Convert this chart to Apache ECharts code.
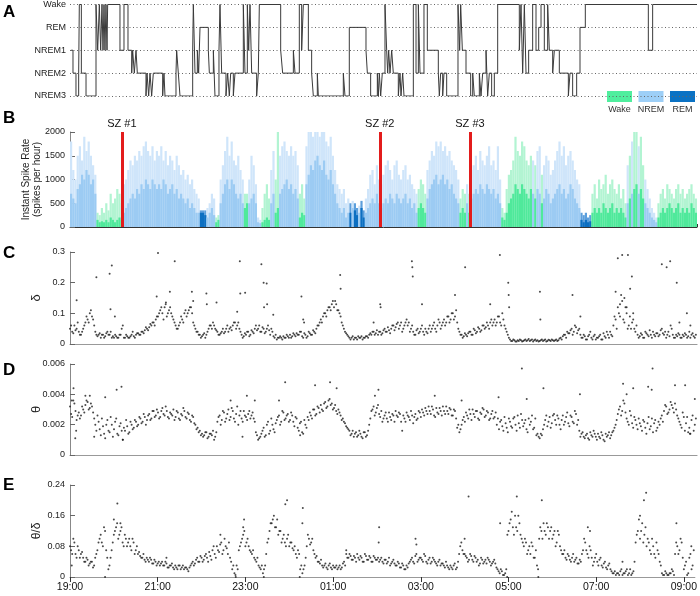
<!DOCTYPE html>
<html><head><meta charset="utf-8">
<script src="https://cdn.jsdelivr.net/npm/echarts@6/dist/echarts.min.js"></script>
<style>html,body{margin:0;padding:0;background:#fff}#c{width:700px;height:596px}</style>
</head><body><div id="c"></div>
<script>
const FONT = '"Liberation Sans", Arial, Helvetica, sans-serif';
const timeTickLabels = ['19:00','21:00','23:00','01:00','03:00','05:00','07:00','09:00'];
const stageLabels = ['NREM3','NREM2','NREM1','REM','Wake'];
const stageLevel = {N3:0, N2:1, N1:2, R:3, W:4};
const hoursShown = 14.25;
const binHours = 0.05;

// Hypnogram: stage change times (hours after 19:00) and stage entered
const hypnoTimes = [0.02,0.068,0.136,0.197,0.212,0.258,0.364,0.591,0.629,0.667,0.697,0.727,0.75,0.773,0.795,0.818,0.841,0.856,1.136,1.227,1.318,1.402,1.424,1.462,1.5,1.53,1.727,1.75,1.788,1.818,1.856,1.894,2.106,2.136,2.159,2.409,2.424,2.462,2.5,2.788,2.803,2.841,2.894,2.924,2.955,3.144,3.167,3.258,3.295,3.386,3.409,3.447,3.545,3.583,3.621,3.652,3.712,3.75,3.939,3.977,4.03,4.061,4.091,4.129,4.242,4.28,4.303,4.788,4.833,5.076,5.114,5.212,5.265,5.303,5.417,5.492,5.53,5.621,5.644,6.212,6.25,6.348,6.727,6.758,6.833,6.985,7.008,7.03,7.061,7.098,7.159,7.197,7.22,7.242,7.273,7.311,7.348,7.462,7.5,7.523,7.561,7.591,7.803,7.864,7.917,7.955,8.045,8.121,8.371,8.394,8.424,8.47,8.5,8.561,8.818,8.856,8.879,8.917,9.0,9.106,9.152,9.189,9.303,9.341,9.379,9.455,9.492,9.53,9.583,9.644,9.72,10.212,10.25,10.288,10.326,10.364,10.424,10.515,10.591,10.652,10.705,10.78,10.856,10.894,10.97,11.008,11.121,11.326,11.364,11.424,11.515,11.591,11.712,13.144,13.242];
const hypnoStages = ['N1','N2','N3','N2','W','N2','N3','W','N1','W','N1','W','N1','W','N1','W','N1','W','N1','W','N1','N2','N1','N2','N1','N2','N3','N2','N3','N2','N3','N2','N3','N2','N3','N2','N1','N2','N3','N1','W','N2','N1','N2','R','N1','N2','N1','N3','N1','W','N2','N3','N2','N3','N2','N3','N2','W','N2','W','N1','W','N2','N3','N2','W','N1','N2','N1','N2','W','N1','W','N1','N2','N3','N2','N3','N2','N3','R','N1','N2','N3','N2','N3','N2','N3','N2','W','N1','N2','N1','N2','N1','N2','N3','N2','N3','N2','N3','W','N2','W','N2','W','N1','N2','N3','N2','N3','N2','N3','W','N1','W','N1','N2','N3','N2','N3','N2','N3','N2','N1','N3','N2','N3','N2','W','N1','W','N2','W','N2','N1','W','N1','R','W','N1','W','N1','N2','N1','N2','N3','N2','N3','N2','R','W','N1','W'];

// Spike rate, 3-minute bins from 19:00
const seizureTimes = [1.175, 7.045, 9.09];
const seizureLabels = ['SZ #1','SZ #2','SZ #3'];
const spikeStage = [
 'NNNNNNNNNNNNWWWWWWWW','WWWWNNNNNNNNNNNNNNNN','NNNNNNNNNNNNNNNNNNNR','RRNNNNWWNNNNNNNNNNNW',
 'WNNNNNNWWWWNNWWNNNNN','NNNNWWWNNNNNNNNNNNNN','NNNNNNNRNRRNRRNNNNNN','NNNNNNNNNNNNNNNNNNWW',
 'WWNNNNNNNNNNNNNNNWWW','NWNNNNNNNNNNNNNNWWWW','WWWWWWWWWWNWNNWNNNNN','NNNNNNNNNNNNRRRRRWWW',
 'WWWWWWWWWWWWWNWNWWNW','WNNNNNNWWWWWWWWWWWWW','WWWWW'].join('');
const spikeCore = [
 700,600,500,800,900,1100,1000,1200,1100,900,1000,700,150,100,120,100,150,100,200,150,
 100,150,200,150,300,400,500,600,700,600,800,700,900,800,1000,900,800,1000,900,800,
 900,800,1000,900,700,800,900,700,800,600,700,600,500,600,400,500,400,300,300,300,
 300,250,200,300,400,250,100,150,500,700,900,1000,800,1000,900,700,600,700,500,400,
 500,500,600,700,500,100,80,100,150,200,150,500,700,300,400,700,800,900,1000,800,
 900,700,800,600,200,300,250,900,1100,1300,1200,1400,1500,1300,1200,1400,1100,1000,1200,900,
 700,500,400,300,400,200,300,300,400,350,250,300,400,200,300,400,500,600,500,700,
 500,400,500,600,500,700,600,500,700,600,500,600,700,500,600,400,500,300,400,500,
 400,300,600,800,900,1000,1100,900,1000,1100,900,1000,800,900,700,600,500,300,400,300,
 500,300,600,700,800,700,900,800,700,900,800,700,800,600,700,500,200,150,300,500,
 600,700,900,800,700,900,800,700,600,800,700,600,800,700,500,600,800,700,500,600,
 700,800,900,700,800,600,700,900,800,600,500,400,150,100,150,100,120,300,400,300,
 400,300,500,400,300,400,500,300,400,300,400,300,200,500,600,700,800,900,700,800,
 600,500,400,300,200,150,100,200,300,400,300,400,500,400,300,400,500,300,400,300,
 400,300,500,400,300];
const spikePeak = [
 1800,1200,1000,1500,1700,1400,1900,1600,1800,1500,1300,1100,300,250,400,300,500,350,700,500,
 600,800,700,500,900,1000,1200,1400,1300,1500,1400,1600,1500,1700,1800,1600,1500,1700,1400,1600,
 1500,1700,1400,1600,1300,1500,1400,1200,1500,1300,1100,1200,1000,1100,900,1000,800,700,600,350,
 350,350,400,500,700,600,200,250,1000,1300,1600,1900,1500,1800,1400,1300,1500,1200,1000,700,
 700,1000,1500,1300,900,200,150,400,700,900,600,1200,1600,1000,2000,1500,1700,1800,1600,1500,
 1700,1500,1600,1300,700,900,600,1700,2000,2000,1900,2000,2000,1900,2000,2000,1800,1700,1900,1500,
 1200,900,800,700,800,500,600,500,550,500,400,450,550,350,600,800,1100,1200,900,1300,
 1000,900,1100,1300,1400,1200,1000,1300,1400,1100,1000,1200,1300,1000,1100,900,800,700,800,1000,
 900,700,1200,1400,1600,1500,1800,1700,1800,1600,1700,1500,1600,1400,1300,1200,1000,600,800,700,
 900,700,1200,1300,1500,1200,1600,1400,1300,1500,1700,1300,1400,1200,1700,1000,400,300,800,1100,
 1200,1400,1900,1600,1500,1800,1700,1400,1300,1500,1400,1300,1600,1700,1100,1300,1500,1400,1100,1200,
 1400,1600,1800,1500,1700,1300,1500,1600,1400,1200,1000,900,300,250,300,200,250,700,900,600,
 1000,800,900,1100,700,900,1000,800,700,900,600,800,500,1300,1500,1800,2000,2000,1700,1900,
 1300,1000,800,600,400,300,200,500,700,800,600,900,800,700,600,800,900,700,800,600,
 700,800,900,700,600];

// delta power: two readings per 3-minute bin (at :00 and :1.5 of the bin), plus outlying points [hours, value]
const delta = [
 0.05,0.04,0.06,0.05,0.04,0.03,0.05,0.07,0.08,0.10,0.09,0.06,0.03,0.03,0.02,0.03,0.025,0.04,0.03,0.02,
 0.02,0.025,0.02,0.03,0.06,0.02,0.025,0.02,0.03,0.025,0.03,0.035,0.03,0.04,0.045,0.05,0.055,0.06,0.07,0.08,
 0.09,0.11,0.10,0.12,0.09,0.11,0.10,0.08,0.06,0.05,0.07,0.08,0.10,0.09,0.11,0.12,0.07,0.05,0.04,0.03,
 0.025,0.035,0.03,0.05,0.06,0.07,0.05,0.04,0.03,0.04,0.035,0.05,0.04,0.055,0.06,0.07,0.06,0.05,0.03,0.025,
 0.03,0.04,0.03,0.04,0.05,0.045,0.06,0.04,0.05,0.04,0.06,0.03,0.04,0.02,0.015,0.02,0.02,0.025,0.02,0.025,
 0.03,0.025,0.03,0.035,0.03,0.04,0.02,0.03,0.025,0.035,0.03,0.04,0.05,0.06,0.08,0.09,0.10,0.11,0.12,0.13,
 0.12,0.13,0.11,0.09,0.06,0.04,0.03,0.02,0.02,0.015,0.02,0.025,0.02,0.015,0.02,0.025,0.03,0.03,0.04,0.035,
 0.03,0.04,0.035,0.05,0.04,0.045,0.05,0.06,0.055,0.07,0.06,0.04,0.06,0.08,0.07,0.05,0.04,0.03,0.05,0.04,
 0.06,0.03,0.04,0.05,0.04,0.06,0.05,0.06,0.07,0.06,0.08,0.07,0.09,0.08,0.10,0.09,0.07,0.04,0.03,0.025,
 0.03,0.035,0.04,0.03,0.045,0.04,0.05,0.045,0.06,0.055,0.06,0.07,0.06,0.08,0.07,0.09,0.06,0.08,0.05,0.03,
 0.015,0.01,0.012,0.008,0.01,0.012,0.01,0.015,0.012,0.01,0.015,0.012,0.01,0.008,0.012,0.01,0.015,0.01,0.012,0.015,
 0.01,0.015,0.012,0.02,0.025,0.03,0.04,0.035,0.05,0.04,0.055,0.045,0.03,0.02,0.025,0.015,0.03,0.02,0.025,0.015,
 0.02,0.03,0.015,0.025,0.04,0.02,0.03,0.06,0.08,0.12,0.09,0.14,0.07,0.10,0.06,0.05,0.08,0.04,0.03,0.025,
 0.03,0.02,0.035,0.025,0.03,0.04,0.025,0.035,0.03,0.05,0.03,0.02,0.04,0.06,0.03,0.02,0.025,0.03,0.02,0.025,
 0.03,0.025,0.02,0.035,0.02];
const deltaB = [
 0.06,0.035,0.045,0.07,0.03,0.04,0.06,0.09,0.07,0.11,0.08,0.04,0.025,0.035,0.03,0.02,0.035,0.03,0.04,0.025,
 0.03,0.02,0.03,0.05,0.02,0.03,0.02,0.025,0.04,0.02,0.035,0.03,0.04,0.035,0.055,0.045,0.065,0.07,0.06,0.09,
 0.10,0.12,0.08,0.13,0.10,0.12,0.09,0.07,0.05,0.06,0.09,0.07,0.11,0.10,0.12,0.10,0.06,0.04,0.03,0.02,
 0.03,0.02,0.04,0.06,0.05,0.06,0.045,0.03,0.035,0.05,0.04,0.06,0.05,0.045,0.07,0.05,0.07,0.04,0.02,0.035,
 0.04,0.025,0.045,0.035,0.06,0.05,0.04,0.055,0.035,0.05,0.045,0.05,0.025,0.03,0.02,0.025,0.015,0.02,0.03,0.02,
 0.02,0.035,0.025,0.03,0.04,0.025,0.035,0.02,0.04,0.03,0.045,0.035,0.06,0.07,0.07,0.10,0.09,0.12,0.11,0.14,
 0.14,0.11,0.10,0.07,0.05,0.035,0.025,0.015,0.025,0.02,0.015,0.02,0.025,0.02,0.025,0.02,0.035,0.04,0.03,0.045,
 0.04,0.03,0.045,0.04,0.055,0.035,0.06,0.045,0.065,0.05,0.07,0.05,0.07,0.06,0.04,0.06,0.03,0.045,0.035,0.05,
 0.04,0.05,0.035,0.06,0.05,0.07,0.04,0.08,0.05,0.07,0.06,0.09,0.07,0.10,0.08,0.11,0.05,0.03,0.02,0.035,
 0.025,0.04,0.03,0.05,0.035,0.055,0.04,0.06,0.05,0.07,0.05,0.08,0.07,0.06,0.09,0.07,0.10,0.06,0.04,0.02,
 0.01,0.015,0.008,0.012,0.015,0.008,0.012,0.01,0.016,0.012,0.008,0.015,0.012,0.01,0.015,0.012,0.008,0.014,0.01,0.012,
 0.012,0.01,0.018,0.015,0.03,0.02,0.035,0.045,0.03,0.06,0.035,0.05,0.02,0.03,0.015,0.025,0.04,0.015,0.03,0.02,
 0.025,0.015,0.035,0.02,0.03,0.04,0.025,0.09,0.05,0.10,0.16,0.08,0.12,0.05,0.09,0.07,0.05,0.06,0.02,0.035,
 0.02,0.04,0.03,0.045,0.02,0.03,0.035,0.025,0.045,0.035,0.04,0.03,0.025,0.05,0.02,0.03,0.035,0.02,0.03,0.035,
 0.02,0.04,0.03,0.025,0.03];
const deltaOutliers = [[0.15,0.143],[0.6,0.218],[0.9,0.229],[0.95,0.256],[0.92,0.113],[1.02,0.09],[1.97,0.155],[2.0,0.297],[2.27,0.17],[2.38,0.27],[2.18,0.135],[2.77,0.17],[2.8,0.14],[3.1,0.165],[3.11,0.13],[3.33,0.135],[3.8,0.105],[3.86,0.27],[3.87,0.165],[3.98,0.167],[4.35,0.26],[4.4,0.2],[4.41,0.12],[4.47,0.197],[4.48,0.13],[4.62,0.095],[5.26,0.155],[5.3,0.08],[5.32,0.07],[6.14,0.225],[6.15,0.18],[6.9,0.07],[7.05,0.13],[7.06,0.12],[7.77,0.27],[7.78,0.25],[7.79,0.22],[8.0,0.13],[8.75,0.16],[8.98,0.25],[9.55,0.13],[9.77,0.29],[9.96,0.2],[9.97,0.16],[9.98,0.12],[10.68,0.17],[10.69,0.08],[11.42,0.16],[11.6,0.09],[12.45,0.28],[12.55,0.29],[12.68,0.29],[12.4,0.17],[12.6,0.15],[12.73,0.18],[12.77,0.22],[12.5,0.13],[12.65,0.12],[12.8,0.1],[13.45,0.26],[13.56,0.25],[13.64,0.27],[13.79,0.2],[13.85,0.07],[14.02,0.1],[14.1,0.06]];

// theta power in units of 0.001, two readings per 3-minute bin, plus outliers [hours, value*1000]
const thetaMilli = [
 3.2,2.5,3.4,2.3,2.8,2.6,3.0,3.3,3.5,3.1,3.2,2.4,1.6,2.2,1.3,1.9,1.1,2.3,1.5,2.0,
 1.7,2.4,1.3,2.1,1.0,1.6,1.9,1.5,2.0,1.8,2.2,2.0,2.4,2.2,2.5,2.3,2.7,2.4,2.9,2.6,
 2.8,2.5,3.1,2.6,2.9,2.4,2.7,3.0,2.5,2.8,2.3,2.6,2.9,2.4,2.7,2.2,2.5,2.0,1.8,1.6,
 1.4,1.3,1.5,1.2,1.4,1.6,1.2,2.2,2.6,2.3,2.8,2.4,3.0,2.5,2.9,2.2,3.2,2.6,2.4,2.9,
 2.5,2.7,2.4,2.8,2.2,1.3,1.1,1.4,1.8,1.3,2.2,1.6,2.0,1.5,2.3,2.6,2.2,2.8,2.4,2.7,
 2.3,2.6,1.9,2.4,1.6,2.2,1.4,2.0,2.5,2.8,2.4,3.0,2.7,3.1,3.3,2.9,3.5,3.2,3.7,3.4,
 3.1,2.9,3.0,2.6,2.4,2.1,1.8,1.6,1.4,1.2,1.5,1.3,1.4,1.1,1.5,1.3,2.0,2.9,3.2,2.8,
 3.3,2.5,2.2,2.6,2.4,2.8,2.3,2.6,2.9,2.5,2.7,1.6,2.4,2.8,2.5,2.9,2.1,2.7,2.4,2.8,
 3.0,2.6,2.9,3.2,2.7,3.0,2.5,2.8,3.1,2.6,2.9,3.2,2.7,3.0,2.6,2.9,1.8,1.5,2.0,2.5,
 2.8,2.4,2.7,3.0,2.5,2.9,2.3,2.7,3.0,2.6,2.8,2.4,2.9,2.5,2.0,1.7,2.3,1.6,2.1,1.5,
 2.2,1.8,2.5,1.6,2.1,2.7,1.9,2.3,1.5,2.0,2.6,1.8,1.3,1.2,1.4,1.7,2.3,1.9,2.5,2.1,
 2.7,2.0,2.4,1.7,2.6,2.2,2.8,1.9,2.5,2.1,2.7,2.3,1.2,1.5,1.1,1.4,1.0,1.3,1.6,1.2,
 1.4,1.1,1.3,0.9,1.2,1.5,1.3,1.6,2.0,2.7,3.2,2.9,3.4,2.4,2.0,2.6,1.8,2.3,1.7,2.1,
 1.6,2.2,1.4,2.5,1.9,1.5,2.3,1.8,2.0,2.6,2.9,3.2,2.8,3.5,3.1,3.4,2.6,2.2,1.8,2.5,
 2.1,1.5,1.4,2.6,2.0];
const thetaMilliB = [
 2.7,3.6,2.9,2.6,2.4,3.2,2.8,3.6,3.0,3.4,2.8,2.0,2.6,1.7,2.4,1.4,2.0,1.6,2.5,1.2,
 2.2,1.4,1.9,1.6,1.8,2.3,1.4,2.2,1.7,2.3,1.9,2.5,2.1,2.7,2.0,2.6,2.3,2.9,2.5,3.0,
 2.4,2.9,2.7,3.2,2.5,2.8,2.6,2.3,2.9,2.4,2.7,3.1,2.5,2.8,2.3,2.6,2.1,1.7,1.5,1.3,
 1.2,1.5,1.1,1.4,1.3,1.0,1.5,2.5,2.0,2.9,2.2,2.7,2.3,3.1,2.4,2.7,2.0,2.9,2.2,2.6,
 2.3,2.9,2.6,2.4,1.5,1.0,1.2,1.6,1.2,2.0,1.4,2.4,1.7,2.1,2.5,2.0,2.9,2.3,2.6,2.2,
 2.8,2.2,2.5,1.8,2.1,1.5,2.3,1.8,2.3,2.6,3.0,2.6,3.2,2.8,3.0,3.4,3.1,3.6,3.3,3.0,
 3.3,2.7,2.8,2.3,2.2,1.9,1.7,1.3,1.6,1.4,1.2,1.6,1.2,1.5,1.2,1.6,2.4,3.0,2.6,3.1,
 2.7,2.9,2.4,2.8,2.2,2.5,2.7,2.2,2.6,2.8,2.2,2.6,2.2,2.6,2.3,2.6,2.5,2.3,2.9,2.5,
 2.8,3.1,2.7,2.9,3.2,2.6,3.1,2.7,2.9,3.2,2.7,2.9,3.1,2.6,3.0,2.4,2.0,1.7,2.3,2.2,
 2.6,3.0,2.3,2.7,2.9,2.4,2.8,3.1,2.5,2.9,2.3,2.7,2.4,2.8,2.4,2.2,1.9,2.5,1.8,2.4,
 1.9,2.4,2.0,2.6,1.8,2.3,2.1,1.7,2.4,2.2,1.7,2.4,1.4,1.1,1.3,2.0,2.6,2.2,1.8,2.6,
 2.3,2.6,2.0,2.3,2.0,2.5,2.1,2.6,2.2,2.9,2.0,1.6,1.4,1.2,1.3,1.1,1.5,1.2,1.4,1.0,
 1.2,1.5,1.0,1.4,1.3,1.1,1.5,1.8,2.3,3.0,2.6,3.6,2.8,2.2,2.9,2.1,2.5,2.0,2.4,1.9,
 2.3,1.8,2.1,1.7,2.4,2.1,1.6,2.2,2.4,2.2,3.3,2.7,3.0,3.3,2.8,3.0,2.4,2.0,2.8,1.6,
 2.5,1.8,2.3,1.6,2.4];
const thetaOutliers = [[0.08,4.4],[0.04,3.6],[0.12,1.1],[0.14,1.6],[0.45,3.9],[0.35,3.9],[0.55,1.2],[0.8,3.8],[1.06,4.3],[1.17,4.5],[1.2,1.0],[3.65,3.6],[3.92,1.2],[4.02,3.9],[4.2,3.6],[4.75,3.6],[4.89,4.8],[5.23,1.3],[5.57,4.6],[5.91,4.8],[6.06,4.4],[6.93,3.9],[7.01,4.3],[8.29,3.9],[8.9,3.6],[9.74,3.8],[10.27,5.7],[10.38,3.7],[10.76,4.4],[11.59,4.0],[12.57,4.7],[12.65,4.0],[12.8,4.4],[13.14,4.5],[13.24,5.7],[13.22,4.3],[13.75,4.6],[13.98,4.6],[14.2,3.7],[14.09,1.4]];

// theta/delta ratio, two readings per 3-minute bin, plus outliers [hours, value]
const ratio = [
 0.08,0.06,0.09,0.05,0.07,0.06,0.05,0.04,0.045,0.035,0.04,0.03,0.06,0.09,0.11,0.08,0.12,0.05,0.03,0.07,
 0.11,0.13,0.10,0.12,0.09,0.11,0.08,0.10,0.07,0.09,0.07,0.06,0.055,0.05,0.045,0.05,0.04,0.045,0.035,0.04,
 0.035,0.03,0.04,0.03,0.035,0.025,0.03,0.025,0.03,0.02,0.03,0.025,0.02,0.025,0.015,0.03,0.04,0.035,0.05,0.04,
 0.05,0.045,0.06,0.04,0.055,0.07,0.06,0.08,0.065,0.09,0.07,0.08,0.06,0.05,0.02,0.01,0.03,0.07,0.09,0.11,
 0.08,0.10,0.07,0.06,0.05,0.04,0.03,0.02,0.01,0.03,0.09,0.12,0.14,0.16,0.13,0.11,0.12,0.10,0.09,0.10,
 0.08,0.09,0.07,0.06,0.07,0.02,0.01,0.03,0.08,0.10,0.09,0.07,0.05,0.04,0.035,0.03,0.03,0.025,0.03,0.025,
 0.03,0.025,0.02,0.03,0.025,0.04,0.06,0.05,0.055,0.045,0.05,0.06,0.045,0.05,0.04,0.055,0.045,0.05,0.04,0.05,
 0.045,0.04,0.05,0.035,0.045,0.04,0.03,0.04,0.035,0.03,0.035,0.025,0.03,0.02,0.025,0.04,0.05,0.035,0.06,0.045,
 0.05,0.04,0.055,0.035,0.05,0.04,0.045,0.035,0.04,0.03,0.035,0.025,0.03,0.02,0.025,0.03,0.02,0.04,0.08,0.07,
 0.06,0.05,0.045,0.055,0.04,0.05,0.045,0.035,0.045,0.04,0.035,0.045,0.03,0.04,0.035,0.02,0.01,0.015,0.005,0.02,
 0.12,0.15,0.13,0.16,0.12,0.14,0.10,0.08,0.09,0.07,0.06,0.08,0.05,0.03,0.10,0.12,0.14,0.11,0.13,0.12,
 0.10,0.12,0.09,0.11,0.07,0.06,0.05,0.06,0.045,0.05,0.04,0.05,0.035,0.04,0.07,0.09,0.06,0.08,0.05,0.04,
 0.06,0.03,0.05,0.025,0.04,0.02,0.035,0.015,0.01,0.005,0.01,0.015,0.005,0.01,0.02,0.01,0.005,0.015,0.09,0.12,
 0.10,0.14,0.11,0.08,0.09,0.06,0.08,0.05,0.07,0.04,0.01,0.005,0.01,0.005,0.01,0.015,0.06,0.08,0.07,0.09,
 0.02,0.04,0.01,0.06,0.03];
const ratioB = [
 0.07,0.1,0.06,0.08,0.05,0.065,0.04,0.05,0.03,0.04,0.025,0.05,0.07,0.1,0.09,0.13,0.07,0.02,0.05,0.09,
 0.12,0.14,0.11,0.13,0.08,0.10,0.09,0.08,0.10,0.06,0.08,0.065,0.05,0.06,0.04,0.045,0.05,0.035,0.045,0.03,
 0.04,0.035,0.03,0.04,0.025,0.03,0.035,0.02,0.025,0.03,0.02,0.03,0.025,0.02,0.025,0.035,0.03,0.045,0.04,0.055,
 0.04,0.055,0.05,0.065,0.045,0.08,0.05,0.07,0.085,0.06,0.1,0.075,0.09,0.04,0.03,0.005,0.02,0.08,0.1,0.12,
 0.09,0.08,0.065,0.07,0.045,0.05,0.025,0.03,0.02,0.06,0.1,0.14,0.15,0.13,0.15,0.12,0.09,0.11,0.08,0.11,
 0.09,0.075,0.08,0.05,0.06,0.03,0.02,0.05,0.11,0.085,0.1,0.06,0.055,0.04,0.045,0.025,0.035,0.02,0.035,0.02,
 0.025,0.03,0.025,0.02,0.035,0.03,0.05,0.06,0.045,0.055,0.04,0.05,0.055,0.04,0.06,0.045,0.055,0.04,0.055,0.045,
 0.05,0.045,0.04,0.045,0.035,0.05,0.035,0.045,0.03,0.04,0.025,0.035,0.02,0.03,0.035,0.045,0.04,0.055,0.04,0.05,
 0.045,0.06,0.04,0.045,0.035,0.05,0.04,0.03,0.045,0.035,0.03,0.04,0.025,0.03,0.02,0.035,0.025,0.06,0.09,0.06,
 0.055,0.04,0.06,0.045,0.055,0.04,0.03,0.05,0.035,0.045,0.05,0.04,0.035,0.045,0.025,0.015,0.02,0.005,0.01,0.11,
 0.14,0.17,0.11,0.13,0.16,0.11,0.09,0.10,0.06,0.08,0.09,0.05,0.07,0.02,0.13,0.10,0.12,0.14,0.10,0.13,
 0.11,0.08,0.12,0.08,0.06,0.07,0.045,0.055,0.04,0.06,0.045,0.035,0.045,0.06,0.1,0.07,0.05,0.07,0.03,0.05,
 0.04,0.045,0.03,0.035,0.025,0.03,0.02,0.01,0.015,0.01,0.005,0.02,0.01,0.015,0.005,0.02,0.01,0.04,0.11,0.15,
 0.12,0.09,0.13,0.1,0.07,0.1,0.06,0.09,0.06,0.03,0.005,0.015,0.005,0.01,0.02,0.005,0.09,0.06,0.1,0.05,
 0.03,0.005,0.05,0.02,0.07];
const ratioOutliers = [[0.04,0.03],[0.8,0.0],[1.08,0.192],[1.0,0.15],[1.15,0.14],[2.2,0.05],[3.43,0.11],[3.78,0.0],[3.97,0.15],[3.95,0.13],[4.42,0.0],[4.95,0.2],[4.91,0.19],[5.31,0.18],[5.3,0.14],[5.24,0.0],[6.3,0.07],[7.05,0.13],[7.04,0.09],[7.88,0.1],[7.9,0.085],[9.0,0.1],[9.09,0.21],[9.81,0.14],[9.97,0.0],[10.19,0.21],[10.68,0.0],[10.76,0.2],[11.81,0.13],[11.86,0.12],[13.09,0.2],[13.0,0.16],[13.14,0.22],[13.83,0.14],[14.17,0.08],[12.6,0.04]];

// ---------- build ----------
const coreColor = {W:'#4fe99b', N:'#9ccbf3', R:'#0c6fc1'};
const peakColor = {W:'#b2f4d2', N:'#cfe5fa', R:'#5c9fdc'};
const legendItems = [['Wake','#50ee9e'],['NREM','#9dcff7'],['REM','#0b72c4']];

const hypnoData = hypnoTimes.map((t,i)=>[t, stageLevel[hypnoStages[i]]]);
hypnoData.push([hoursShown, stageLevel[hypnoStages[hypnoStages.length-1]]]);

const peakData = spikePeak.map((v,i)=>({value:[i*binHours+binHours/2, v], itemStyle:{color:peakColor[spikeStage[i]]}}));
const coreData = spikeCore.map((v,i)=>({value:[i*binHours+binHours/2, v], itemStyle:{color:coreColor[spikeStage[i]]}}));

function twoPerBin(a, b, scale){
  const out = [];
  a.forEach((v,i)=>out.push([i*binHours, v*scale]));
  b.forEach((v,i)=>out.push([i*binHours+binHours/2, v*scale]));
  return out;
}
const deltaData = twoPerBin(delta, deltaB, 1).concat(deltaOutliers);
const thetaData = twoPerBin(thetaMilli, thetaMilliB, 0.001).concat(thetaOutliers.map(p=>[p[0], p[1]/1000]));
const ratioData = twoPerBin(ratio, ratioB, 1).concat(ratioOutliers);

function timeLabel(v){
  const k = v/2;
  if (Math.abs(k-Math.round(k))>1e-6) return '';
  return timeTickLabels[Math.round(k)] || '';
}

const gridTops = [4,132,252,364,485];
const gridHeights = [92,95,92,91,92];
const grids = gridTops.map((t,i)=>({left:70, right:3, top:t, height:gridHeights[i]}));

const xBase = {type:'value', min:0, max:hoursShown, interval:2, splitLine:{show:false}};
const xAxes = [
  Object.assign({}, xBase, {gridIndex:0, show:false}),
  Object.assign({}, xBase, {gridIndex:1, axisLine:{lineStyle:{color:'#333',width:1}}, axisTick:{inside:true,length:3,lineStyle:{color:'#333'}}, axisLabel:{show:false}}),
  Object.assign({}, xBase, {gridIndex:2, axisLine:{lineStyle:{color:'#999',width:1.2}}, axisTick:{show:false}, axisLabel:{show:false}}),
  Object.assign({}, xBase, {gridIndex:3, axisLine:{lineStyle:{color:'#999',width:1.2}}, axisTick:{show:false}, axisLabel:{show:false}}),
  Object.assign({}, xBase, {gridIndex:4, axisLine:{lineStyle:{color:'#999',width:1.2}}, axisTick:{length:5,lineStyle:{color:'#333'}},
     axisLabel:{formatter:timeLabel, fontSize:10.5, color:'#111', margin:5, showMaxLabel:false}})
];

const yLab = {fontSize:9, color:'#222', margin:5, formatter:v=>String(v)};
const yLine = {show:true, lineStyle:{color:'#888',width:1}};
const yTick = {show:true, inside:true, length:5, lineStyle:{color:'#666'}};
const yName = (n, gap, size)=>({name:n, nameLocation:'middle', nameRotate:90, nameGap:gap, nameMoveOverlap:false, nameTextStyle:{fontSize:size, color:'#222', lineHeight:11}});

const yAxes = [
  {gridIndex:0, type:'value', min:0, max:4, interval:1, axisLine:{show:false}, axisTick:{show:false},
   axisLabel:{fontSize:9, color:'#222', margin:4, formatter:v=>stageLabels[v]},
   splitLine:{show:true, lineStyle:{color:'#666', width:1, type:[1,2.5]}}},
  Object.assign({gridIndex:1, type:'value', min:0, max:2000, interval:500, axisLine:yLine, axisTick:yTick, axisLabel:yLab, splitLine:{show:false}},
     yName('Instant Spike Rate\n(spikes per hour)', 27, 10)),
  Object.assign({gridIndex:2, type:'value', min:0, max:0.3, interval:0.1, axisLine:yLine, axisTick:yTick, axisLabel:yLab, splitLine:{show:false}},
     yName('δ', 28, 13)),
  Object.assign({gridIndex:3, type:'value', min:0, max:0.006, interval:0.002, axisLine:yLine, axisTick:yTick, axisLabel:yLab, splitLine:{show:false}},
     yName('θ', 28, 13)),
  Object.assign({gridIndex:4, type:'value', min:0, max:0.24, interval:0.08, axisLine:yLine, axisTick:yTick, axisLabel:yLab, splitLine:{show:false}},
     yName('θ/δ', 28, 12))
];

const dot = {type:'scatter', symbolSize:2, itemStyle:{color:'#1a1a1a'}, silent:true};

const series = [
  {type:'line', xAxisIndex:0, yAxisIndex:0, data:hypnoData, step:'end', showSymbol:false, symbol:'none',
   lineStyle:{color:'#3a3a3a', width:1}, silent:true},
  {type:'bar', name:'peak', xAxisIndex:1, yAxisIndex:1, data:peakData, barWidth:2.2, barGap:'-100%', silent:true},
  {type:'bar', name:'core', xAxisIndex:1, yAxisIndex:1, data:coreData, barWidth:2.2, barGap:'-100%', silent:true,
   markLine:{silent:true, symbol:['none','none'], animation:false,
     lineStyle:{color:'#e31c1c', width:3, type:'solid'},
     label:{position:'end', color:'#111', fontSize:11, distance:3},
     data:seizureTimes.map((t,i)=>({xAxis:t, label:{formatter:seizureLabels[i]}}))}},
  Object.assign({}, dot, {xAxisIndex:2, yAxisIndex:2, data:deltaData}),
  Object.assign({}, dot, {xAxisIndex:3, yAxisIndex:3, data:thetaData}),
  Object.assign({}, dot, {xAxisIndex:4, yAxisIndex:4, data:ratioData})
];

const letters = [['A',12],['B',118],['C',253],['D',370],['E',485]];
const graphic = letters.map(l=>({type:'text', x:3, y:l[1], style:{text:l[0], font:'bold 17px '+FONT, fill:'#000', textVerticalAlign:'middle'}}));
legendItems.forEach((it,i)=>{
  const x0 = 607 + i*31.5;
  graphic.push({type:'rect', shape:{x:x0, y:91, width:25, height:11}, style:{fill:it[1]}});
  graphic.push({type:'text', x:x0+12.5, y:110, style:{text:it[0], font:'9px '+FONT, fill:'#333', textAlign:'center', textVerticalAlign:'middle'}});
});

const chart = echarts.init(document.getElementById('c'), null, {renderer:'canvas'});
chart.setOption({
  animation:false,
  backgroundColor:'#fff',
  textStyle:{fontFamily:FONT},
  grid:grids, xAxis:xAxes, yAxis:yAxes, series:series, graphic:graphic
});
</script></body></html>
